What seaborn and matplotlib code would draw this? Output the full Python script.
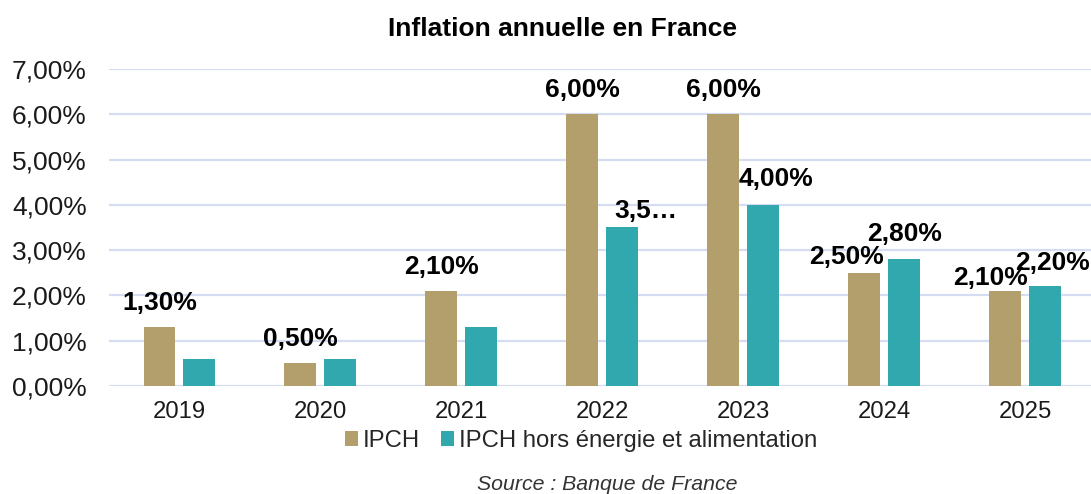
import matplotlib.pyplot as plt
import pandas as pd
import seaborn as sns
from matplotlib.ticker import FuncFormatter

# Données (en %)
years = ["2019", "2020", "2021", "2022", "2023", "2024", "2025"]
ipch = [1.3, 0.5, 2.1, 6.0, 6.0, 2.5, 2.1]
ipch_core = [0.6, 0.6, 1.3, 3.5, 4.0, 2.8, 2.2]
series_names = ["IPCH", "IPCH hors énergie et alimentation"]
ipch_labels = ["1,30%", "0,50%", "2,10%", "6,00%", "6,00%", "2,50%", "2,10%"]
core_labels = ["", "", "", "3,5…", "4,00%", "2,80%", "2,20%"]

# décalages des étiquettes (pixels, par rapport au sommet de la barre)
ipch_offsets = [(0, 25), (0, 25), (0, 25), (0, 25), (0, 25), (-18, 17), (-15, 14)]
core_offsets = [(0, 0), (0, 0), (0, 0), (24, 18), (13, 27), (0, 26), (7, 24)]

colors = {"IPCH": "#B39F6C", "IPCH hors énergie et alimentation": "#31A8AD"}
grid_color = "#D6DCF2"
text_color = "#1a1a1a"

df = pd.DataFrame({
    "année": years * 2,
    "valeur": ipch + ipch_core,
    "série": [series_names[0]] * len(years) + [series_names[1]] * len(years),
})

sns.set_theme(style="whitegrid")
plt.rcParams["font.family"] = ["Liberation Sans", "DejaVu Sans"]

fig = plt.figure(figsize=(10.91, 4.94), dpi=100)
ax = fig.add_axes([109 / 1091, 108 / 494, 986.5 / 1091, 317 / 494])

sns.barplot(data=df, x="année", y="valeur", hue="série", hue_order=series_names,
            palette=colors, width=0.567, gap=0.2, saturation=1, linewidth=0, ax=ax)

ax.set_ylim(0, 7)
ax.set_xlim(-0.5, 6.5)
ax.set_yticks(range(0, 8))
ax.yaxis.set_major_formatter(FuncFormatter(lambda v, p: f"{v:.2f}".replace(".", ",") + "%"))
ax.set_xlabel("")
ax.set_ylabel("")
ax.grid(axis="y", color=grid_color, linewidth=1.6)
ax.grid(axis="x", visible=False)
ax.set_axisbelow(True)
for s in ax.spines.values():
    s.set_visible(False)
ax.tick_params(axis="y", labelsize=19, pad=16, length=0, colors=text_color)
ax.tick_params(axis="x", labelsize=17.2, pad=11, length=0, colors=text_color)

# étiquettes de données
for container, labels, offsets in zip(ax.containers, [ipch_labels, core_labels],
                                      [ipch_offsets, core_offsets]):
    for bar, lab, (dx, dy) in zip(container, labels, offsets):
        if not lab:
            continue
        ax.annotate(lab, (bar.get_x() + bar.get_width() / 2, bar.get_height()),
                    xytext=(dx, dy - 1), textcoords="offset pixels",
                    ha="center", va="center", fontsize=19, fontweight="bold",
                    color="black", annotation_clip=False)

sns.move_legend(ax, "center", bbox_to_anchor=(581 / 1091, 1 - 441 / 494),
                bbox_transform=fig.transFigure, ncol=2, title=None, frameon=False,
                fontsize=17.2, handlelength=0.55, handleheight=0.55,
                handletextpad=0.2, columnspacing=0.9, borderpad=0)

fig.suptitle("Inflation annuelle en France", x=563 / 1091, y=1 - 29 / 494,
             va="center", fontsize=19, fontweight="bold", color="black")
fig.text(607 / 1091, 1 - 484 / 494, "Source : Banque de France", ha="center",
         va="center", fontsize=15.3, style="italic", color="#333333")

fig.savefig("out.png", dpi=100)
